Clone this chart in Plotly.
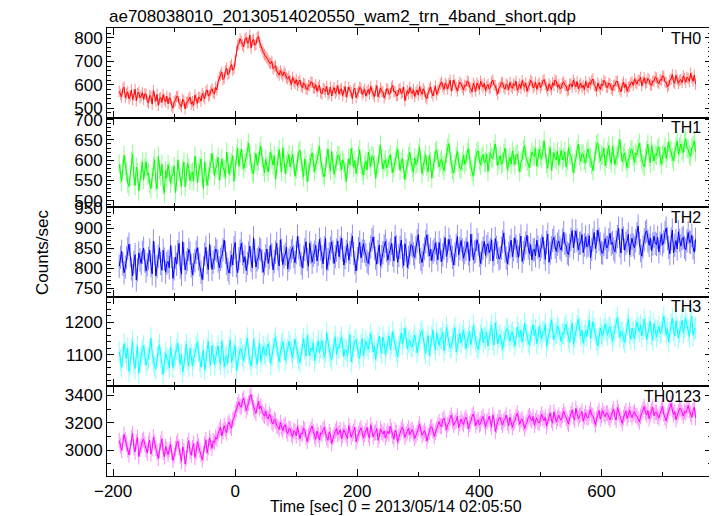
import numpy as np
import plotly.graph_objects as go
from plotly.subplots import make_subplots

# ---- data (2-s sampling starting at t=-190 s) ----
t_start = -190
t_step = 2

th0 = [572, 559, 548, 583, 590, 545, 561, 570, 540, 552, 578, 537, 556, 581, 531, 563, 569, 544, 552, 566,
       538, 561, 560, 529, 522, 555, 549, 517, 575, 548, 530, 559, 512, 540, 546, 525, 558, 536, 527, 551,
       519, 544, 541, 510, 500, 528, 533, 549, 552, 521, 515, 506, 538, 531, 497, 524, 526, 540, 548, 517,
       528, 512, 556, 539, 521, 547, 545, 530, 563, 551, 540, 569, 578, 552, 555, 574, 583, 566, 562, 590,
       578, 615, 632, 641, 655, 622, 628, 660, 671, 643, 649, 677, 686, 662, 668, 705, 742, 768, 775, 796,
       784, 770, 762, 795, 801, 778, 779, 812, 756, 787, 793, 769, 772, 801, 806, 781, 765, 752, 738, 729,
       722, 714, 705, 693, 690, 701, 668, 676, 681, 659, 652, 641, 660, 647, 638, 655, 646, 629, 625, 636,
       618, 601, 632, 614, 605, 622, 597, 611, 620, 594, 588, 607, 603, 583, 579, 598, 596, 612, 610, 587,
       585, 601, 572, 589, 598, 566, 561, 584, 580, 571, 593, 557, 566, 590, 552, 575, 588, 563, 574, 596,
       560, 578, 583, 554, 571, 592, 548, 567, 590, 575, 566, 541, 579, 586, 545, 562, 571, 589, 585, 558,
       568, 582, 552, 571, 580, 561, 593, 574, 562, 549, 575, 596, 549, 565, 586, 572, 570, 544, 558, 583,
       581, 559, 564, 588, 597, 570, 572, 553, 555, 579, 584, 562, 568, 590, 532, 556, 575, 561, 589, 570,
       563, 579, 550, 567, 578, 556, 591, 573, 559, 583, 572, 548, 540, 566, 583, 591, 566, 552, 575, 594,
       558, 576, 587, 603, 612, 591, 580, 607, 598, 582, 605, 619, 574, 596, 620, 601, 589, 573, 596, 611,
       603, 587, 578, 598, 595, 616, 612, 589, 584, 570, 606, 593, 572, 608, 598, 581, 615, 600, 590, 606,
       575, 592, 601, 583, 588, 612, 620, 599, 596, 577, 560, 586, 593, 610, 607, 589, 581, 603, 598, 579,
       610, 593, 585, 604, 597, 615, 576, 589, 603, 584, 618, 600, 590, 608, 572, 591, 600, 619, 612, 586,
       594, 611, 581, 600, 609, 587, 597, 616, 622, 601, 588, 574, 604, 593, 579, 609, 596, 621, 615, 589,
       601, 583, 586, 607, 612, 598, 595, 574, 578, 602, 604, 590, 620, 605, 591, 614, 583, 597, 606, 588,
       598, 579, 614, 596, 587, 610, 602, 617, 625, 598, 592, 573, 608, 594, 580, 603, 596, 619, 611, 590,
       589, 607, 603, 584, 576, 598, 597, 615, 614, 592, 582, 570, 600, 611, 588, 603, 571, 590, 594, 608,
       612, 597, 625, 609, 603, 620, 618, 632, 596, 613, 630, 605, 610, 627, 621, 600, 598, 616, 615, 633,
       628, 611, 604, 622, 619, 637, 635, 612, 610, 591, 598, 620, 624, 643, 612, 606, 640, 623, 606, 618,
       622, 609, 638, 626, 611, 632, 627, 614, 650, 629, 615, 641, 603]

th1 = [590, 566, 548, 579, 612, 587, 571, 543, 535, 562, 598, 615, 560, 538, 583, 569, 524, 552, 577, 595,
       552, 581, 596, 563, 568, 542, 530, 557, 585, 601, 547, 529, 609, 576, 561, 590, 538, 519, 574, 556,
       589, 571, 543, 560, 566, 585, 520, 548, 601, 574, 557, 536, 578, 595, 534, 562, 592, 580, 549, 567,
       571, 549, 610, 586, 545, 568, 583, 603, 559, 530, 596, 572, 538, 560, 575, 593, 617, 588, 562, 579,
       588, 607, 551, 573, 603, 582, 576, 557, 620, 596, 565, 584, 593, 611, 548, 579, 612, 630, 585, 602,
       628, 601, 579, 594, 605, 623, 642, 610, 591, 572, 566, 597, 617, 588, 598, 620, 635, 607, 584, 569,
       602, 585, 571, 596, 620, 603, 588, 611, 553, 577, 609, 626, 594, 572, 631, 605, 567, 589, 598, 614,
       583, 601, 614, 592, 560, 578, 596, 619, 625, 597, 575, 558, 603, 587, 547, 571, 590, 606, 618, 593,
       572, 590, 599, 615, 634, 602, 581, 566, 558, 583, 606, 627, 589, 574, 621, 598, 565, 580, 597, 612,
       612, 595, 576, 601, 593, 570, 548, 579, 604, 588, 629, 608, 582, 599, 567, 584, 611, 626, 590, 573,
       563, 587, 598, 576, 620, 603, 584, 611, 609, 589, 555, 580, 592, 616, 637, 604, 578, 593, 601, 582,
       586, 604, 613, 591, 569, 582, 597, 612, 628, 601, 575, 594, 604, 578, 552, 577, 590, 609, 619, 597,
       581, 570, 606, 589, 594, 617, 631, 600, 567, 585, 599, 614, 585, 571, 612, 596, 556, 579, 598, 620,
       625, 604, 583, 597, 602, 586, 574, 593, 616, 630, 641, 612, 590, 577, 568, 591, 609, 623, 595, 581,
       577, 596, 612, 590, 598, 618, 629, 603, 584, 571, 560, 588, 605, 620, 623, 599, 588, 607, 614, 594,
       596, 615, 572, 597, 618, 606, 603, 625, 640, 611, 587, 599, 611, 590, 594, 616, 630, 604, 576, 595,
       607, 590, 623, 608, 589, 612, 615, 598, 571, 594, 602, 625, 636, 609, 598, 585, 581, 604, 620, 611,
       610, 629, 585, 603, 627, 611, 604, 623, 648, 617, 592, 580, 613, 631, 575, 596, 619, 605, 601, 622,
       588, 608, 624, 600, 606, 621, 583, 599, 631, 614, 612, 593, 569, 590, 603, 626, 640, 611, 597, 616,
       615, 600, 592, 619, 628, 607, 605, 589, 574, 597, 622, 638, 643, 616, 598, 612, 611, 630, 586, 604,
       620, 636, 603, 592, 635, 617, 589, 606, 612, 628, 651, 622, 596, 610, 618, 599, 581, 603, 607, 625,
       627, 610, 595, 617, 613, 630, 642, 619, 601, 590, 584, 606, 624, 640, 609, 593, 636, 618, 598, 615,
       612, 627, 633, 608, 590, 611, 617, 632, 604, 621, 645, 628, 622, 606, 598, 619, 631, 647, 615, 633,
       640, 625, 618, 644, 652, 630, 627, 614, 609, 631, 636, 648, 621]

th2 = [805, 827, 842, 811, 789, 803, 826, 849, 860, 832, 798, 781, 815, 834, 771, 796, 838, 821, 812, 840,
       850, 818, 793, 809, 824, 845, 807, 786, 868, 837, 781, 804, 830, 851, 812, 795, 845, 823, 790, 812,
       817, 801, 856, 829, 775, 798, 828, 810, 841, 862, 803, 785, 866, 836, 796, 814, 822, 847, 838, 806,
       784, 809, 819, 840, 851, 823, 808, 790, 772, 801, 835, 852, 814, 796, 859, 830, 797, 815, 826, 848,
       843, 818, 801, 822, 829, 846, 870, 839, 812, 797, 788, 815, 833, 808, 851, 864, 806, 789, 824, 843,
       862, 836, 815, 829, 794, 812, 838, 855, 819, 801, 876, 844, 803, 821, 827, 849, 845, 818, 790, 811,
       831, 848, 812, 827, 858, 834, 796, 817, 840, 862, 823, 806, 871, 845, 809, 828, 835, 853, 798, 820,
       826, 843, 852, 829, 814, 838, 880, 851, 833, 812, 801, 828, 847, 866, 822, 805, 863, 839, 815, 832,
       840, 857, 818, 835, 872, 848, 829, 811, 851, 874, 797, 822, 836, 850, 866, 841, 812, 829, 845, 868,
       829, 851, 875, 846, 808, 826, 842, 861, 820, 839, 858, 880, 837, 814, 793, 824, 849, 865, 826, 843,
       861, 842, 834, 817, 812, 836, 853, 871, 878, 849, 825, 810, 841, 858, 806, 829, 839, 855, 867, 844,
       820, 837, 846, 862, 833, 818, 879, 854, 815, 832, 852, 870, 829, 807, 861, 845, 802, 827, 838, 859,
       855, 836, 827, 851, 868, 884, 840, 822, 814, 833, 849, 866, 883, 857, 831, 848, 819, 840, 846, 863,
       838, 821, 864, 845, 816, 833, 851, 876, 829, 843, 872, 855, 845, 827, 808, 836, 857, 879, 833, 849,
       869, 846, 825, 839, 848, 866, 836, 818, 885, 857, 821, 840, 843, 871, 859, 832, 812, 838, 850, 867,
       832, 854, 861, 839, 847, 871, 818, 835, 874, 852, 839, 823, 826, 850, 866, 888, 843, 825, 811, 837,
       853, 870, 829, 846, 876, 855, 842, 827, 858, 880, 817, 839, 849, 863, 882, 851, 836, 859, 821, 845,
       847, 831, 870, 852, 828, 846, 855, 878, 839, 822, 864, 885, 815, 838, 851, 869, 877, 853, 842, 860,
       868, 851, 845, 870, 889, 862, 857, 838, 834, 856, 872, 894, 851, 867, 893, 870, 846, 862, 863, 884,
       839, 858, 878, 853, 858, 881, 826, 847, 870, 889, 849, 866, 895, 872, 861, 840, 837, 859, 874, 852,
       852, 871, 887, 860, 864, 848, 841, 865, 879, 900, 856, 838, 898, 875, 845, 862, 868, 885, 833, 857,
       875, 858, 851, 869, 886, 905, 862, 844, 830, 853, 871, 889, 893, 868, 857, 876, 843, 860, 880, 862,
       859, 877, 841, 862, 884, 858, 866, 889, 900, 874, 852, 836, 873, 895, 838, 857, 869, 848, 891, 870,
       855, 873, 877, 852, 846, 868, 889, 866, 864, 882, 851, 840, 872]

th3 = [1110, 1084, 1062, 1096, 1135, 1107, 1088, 1121, 1049, 1073, 1120, 1141, 1075, 1058, 1101, 1126, 1043, 1079, 1097, 1115,
       1128, 1099, 1069, 1083, 1090, 1117, 1152, 1104, 1081, 1065, 1056, 1094, 1114, 1131, 1092, 1071, 1040, 1078, 1106, 1089,
       1083, 1061, 1125, 1102, 1061, 1086, 1099, 1118, 1137, 1094, 1072, 1101, 1048, 1069, 1110, 1133, 1087, 1065, 1121, 1100,
       1066, 1088, 1103, 1124, 1139, 1111, 1080, 1062, 1096, 1115, 1054, 1077, 1118, 1142, 1091, 1068, 1129, 1105, 1070, 1093,
       1107, 1128, 1085, 1071, 1142, 1116, 1063, 1089, 1098, 1074, 1124, 1146, 1077, 1093, 1112, 1130, 1051, 1082, 1095, 1119,
       1118, 1097, 1082, 1108, 1130, 1152, 1104, 1087, 1066, 1093, 1147, 1122, 1091, 1070, 1113, 1136, 1079, 1101, 1126, 1106,
       1098, 1121, 1135, 1110, 1072, 1096, 1120, 1138, 1153, 1127, 1094, 1079, 1108, 1131, 1141, 1115, 1083, 1104, 1117, 1142,
       1129, 1108, 1090, 1117, 1148, 1124, 1105, 1087, 1076, 1101, 1132, 1150, 1119, 1096, 1160, 1133, 1097, 1121, 1114, 1139,
       1081, 1104, 1125, 1143, 1107, 1122, 1144, 1118, 1093, 1110, 1168, 1139, 1112, 1095, 1086, 1115, 1137, 1156, 1102, 1124,
       1121, 1140, 1154, 1129, 1095, 1117, 1113, 1097, 1139, 1162, 1078, 1106, 1126, 1143, 1148, 1123, 1104, 1089, 1131, 1150,
       1097, 1120, 1143, 1127, 1118, 1139, 1165, 1141, 1109, 1128, 1087, 1114, 1136, 1158, 1122, 1105, 1155, 1137, 1101, 1125,
       1140, 1159, 1116, 1135, 1172, 1147, 1128, 1110, 1095, 1124, 1150, 1168, 1133, 1151, 1182, 1156, 1119, 1138, 1145, 1127,
       1124, 1143, 1161, 1138, 1107, 1129, 1146, 1169, 1175, 1150, 1121, 1104, 1139, 1160, 1098, 1126, 1157, 1177, 1134, 1115,
       1168, 1145, 1129, 1152, 1151, 1170, 1112, 1136, 1185, 1161, 1142, 1120, 1126, 1149, 1163, 1184, 1109, 1131, 1148, 1166,
       1137, 1158, 1176, 1149, 1120, 1141, 1155, 1173, 1131, 1152, 1190, 1164, 1143, 1125, 1117, 1139, 1160, 1181, 1138, 1154,
       1152, 1170, 1127, 1148, 1171, 1192, 1146, 1130, 1199, 1173, 1134, 1155, 1162, 1144, 1118, 1140, 1157, 1178, 1181, 1159,
       1143, 1164, 1170, 1152, 1128, 1149, 1186, 1167, 1155, 1176, 1139, 1158, 1197, 1174, 1162, 1140, 1131, 1156, 1175, 1193,
       1159, 1178, 1135, 1153, 1188, 1166, 1150, 1171, 1172, 1194, 1126, 1149, 1165, 1183, 1208, 1180, 1147, 1163, 1168, 1189,
       1180, 1160, 1141, 1166, 1163, 1184, 1195, 1172, 1152, 1138, 1177, 1198, 1133, 1155, 1169, 1190, 1211, 1183, 1158, 1176,
       1136, 1159, 1174, 1156, 1190, 1208, 1149, 1171, 1202, 1180, 1165, 1145, 1128, 1152, 1183, 1167, 1157, 1178, 1196, 1174,
       1161, 1182, 1187, 1165, 1143, 1160, 1178, 1199, 1215, 1186, 1154, 1173, 1170, 1151, 1139, 1164, 1192, 1211, 1166, 1148,
       1183, 1168, 1149, 1175, 1201, 1184, 1172, 1193, 1158, 1179, 1210, 1188, 1146, 1167, 1185, 1204, 1163, 1145, 1197, 1177,
       1155, 1173, 1188, 1166, 1171, 1196, 1218, 1190, 1162, 1181, 1140, 1168, 1194, 1213, 1176, 1158, 1205, 1184, 1152, 1171,
       1189, 1207, 1167, 1185, 1212, 1193, 1174, 1156, 1198, 1219, 1160, 1178, 1183]

th0123 = [3070, 3032, 2998, 3051, 3115, 3076, 3042, 3004, 2965, 3019, 3088, 3121, 3021, 2987, 3060, 3093, 2952, 3008, 3034, 3067,
          3079, 3041, 3003, 2978, 3048, 3072, 2971, 3012, 3095, 3058, 3015, 2983, 2940, 2996, 3052, 3083, 2986, 2951, 3027, 3004,
          2968, 3005, 3041, 2982, 2925, 2959, 3010, 3047, 3066, 3020, 2955, 2917, 3024, 2993, 2898, 2944, 3037, 3070, 2990, 2962,
          3018, 3049, 2946, 2985, 3062, 3030, 3001, 2968, 2930, 2975, 3045, 3076, 2978, 3021, 3089, 3054, 3012, 3067, 3056, 3094,
          3080, 3121, 3145, 3168, 3102, 3139, 3178, 3150, 3126, 3187, 3205, 3174, 3160, 3219, 3234, 3271, 3298, 3330, 3352, 3318,
          3315, 3361, 3380, 3334, 3287, 3318, 3342, 3389, 3405, 3351, 3310, 3290, 3268, 3327, 3356, 3301, 3322, 3279, 3260, 3248,
          3285, 3241, 3228, 3262, 3246, 3205, 3190, 3227, 3214, 3179, 3168, 3150, 3201, 3163, 3142, 3176, 3185, 3139, 3120, 3158,
          3156, 3117, 3098, 3141, 3135, 3104, 3172, 3130, 3084, 3122, 3119, 3160, 3148, 3095, 3063, 3108, 3127, 3150, 3176, 3133,
          3102, 3079, 3140, 3113, 3075, 3126, 3118, 3149, 3165, 3121, 3090, 3071, 3133, 3109, 3047, 3092, 3112, 3137, 3158, 3115,
          3125, 3148, 3082, 3110, 3149, 3126, 3106, 3083, 3178, 3141, 3094, 3120, 3137, 3168, 3060, 3099, 3121, 3144, 3163, 3128,
          3088, 3116, 3142, 3165, 3110, 3087, 3185, 3147, 3096, 3124, 3130, 3158, 3071, 3103, 3154, 3131, 3117, 3140, 3089, 3115,
          3138, 3119, 3175, 3143, 3102, 3079, 3146, 3127, 3058, 3101, 3124, 3152, 3169, 3136, 3093, 3118, 3135, 3161, 3112, 3140,
          3150, 3123, 3084, 3106, 3127, 3159, 3190, 3144, 3108, 3126, 3142, 3117, 3066, 3105, 3131, 3166, 3172, 3138, 3098, 3129,
          3155, 3181, 3208, 3176, 3172, 3219, 3234, 3197, 3146, 3184, 3198, 3231, 3255, 3213, 3180, 3202, 3215, 3248, 3162, 3194,
          3226, 3201, 3187, 3223, 3240, 3212, 3153, 3189, 3209, 3245, 3264, 3228, 3178, 3206, 3221, 3183, 3195, 3230, 3246, 3210,
          3170, 3204, 3218, 3247, 3193, 3168, 3257, 3225, 3136, 3179, 3205, 3236, 3238, 3203, 3182, 3214, 3226, 3255, 3199, 3177,
          3241, 3209, 3166, 3197, 3212, 3243, 3270, 3231, 3189, 3216, 3228, 3195, 3157, 3186, 3204, 3238, 3252, 3227, 3213, 3246,
          3181, 3214, 3236, 3205, 3197, 3229, 3262, 3233, 3215, 3241, 3174, 3208, 3248, 3271, 3220, 3196, 3279, 3244, 3206, 3232,
          3255, 3229, 3218, 3251, 3284, 3260, 3232, 3207, 3190, 3236, 3266, 3293, 3241, 3219, 3305, 3268, 3228, 3250, 3259, 3283,
          3210, 3243, 3272, 3239, 3236, 3268, 3296, 3257, 3248, 3221, 3184, 3226, 3263, 3290, 3227, 3253, 3289, 3262, 3244, 3271,
          3268, 3240, 3221, 3254, 3277, 3301, 3240, 3219, 3312, 3279, 3252, 3228, 3195, 3238, 3265, 3287, 3230, 3256, 3291, 3262,
          3237, 3266, 3280, 3253, 3249, 3227, 3206, 3245, 3273, 3296, 3318, 3277, 3256, 3289, 3229, 3261, 3290, 3314, 3251, 3276,
          3275, 3248, 3233, 3268, 3297, 3320, 3262, 3239, 3214, 3255, 3285, 3306, 3340, 3294, 3258, 3281, 3222, 3253, 3279, 3304,
          3301, 3274, 3248, 3283, 3270, 3297, 3325, 3288, 3262, 3240, 3290, 3313, 3236]

band_names = ["TH0", "TH1", "TH2", "TH3", "TH0123"]
band_values = [th0, th1, th2, th3, th0123]
band_errors = [24, 24, 29, 33, 57]

title_text = "ae708038010_20130514020550_wam2_trn_4band_short.qdp"
x_title = "Time [sec] 0 = 2013/05/14 02:05:50"
y_title = "Counts/sec"

# ---- styling ----
line_colors = ["#ff0000", "#00ff00", "#0000ff", "#00ffff", "#ff00ff"]
err_colors = ["rgba(255,0,0,0.45)", "rgba(0,255,0,0.45)", "rgba(0,0,255,0.45)",
              "rgba(0,255,255,0.45)", "rgba(255,0,255,0.45)"]
y_ranges = [[460, 842], [484, 705], [729, 952], [1003, 1279], [2811, 3465]]
y_dticks = [100, 50, 50, 100, 200]
y_minor = [20, 10, 10, 20, 100]

FONT = "Liberation Sans, Arial, Helvetica, sans-serif"
OFF = 8                      # default page (body) margin of the html page
W, H = 717 - OFF, 516 - OFF
ML, MR, MT, MB = 107 - OFF, 5, 28 - OFF, 40
PW, PH = W - ML - MR, H - MT - MB


def px_x(page_x):
    return (page_x - OFF - ML) / PW


def px_y(page_y):
    return (H - MB - (page_y - OFF)) / PH


fig = make_subplots(rows=5, cols=1, shared_xaxes=True, vertical_spacing=0)

for i, (vals, err) in enumerate(zip(band_values, band_errors)):
    t = t_start + t_step * np.arange(len(vals))
    fig.add_trace(go.Scatter(
        x=t, y=vals, mode="lines",
        line=dict(color=line_colors[i], width=1),
        error_y=dict(type="constant", value=err, color=err_colors[i],
                     thickness=1, width=0),
        showlegend=False, hoverinfo="skip"), row=i + 1, col=1)

    fig.update_yaxes(row=i + 1, col=1, range=y_ranges[i], dtick=y_dticks[i],
                     tick0=0, ticks="inside", ticklen=7, tickwidth=1,
                     tickcolor="black", showline=True, linecolor="black",
                     linewidth=1, mirror="allticks", showgrid=False,
                     zeroline=False,
                     tickfont=dict(family=FONT, size=17, color="black"),
                     minor=dict(dtick=y_minor[i], ticks="inside", ticklen=4,
                                tickcolor="black", showgrid=False))
    fig.update_xaxes(row=i + 1, col=1, range=[-210, 781], dtick=200, tick0=0,
                     ticks="inside", ticklen=7, tickwidth=1, tickcolor="black",
                     showline=True, linecolor="black", linewidth=1,
                     mirror="allticks", showgrid=False, zeroline=False,
                     showticklabels=(i == 4),
                     tickfont=dict(family=FONT, size=17, color="black"),
                     minor=dict(dtick=100, ticks="inside", ticklen=4,
                                tickcolor="black", showgrid=False))

annotations = []
for i, name in enumerate(band_names):
    top_page = 28 + 448 / 5 * i
    annotations.append(dict(
        text=name, xref="paper", yref="paper",
        x=px_x(703), y=px_y(top_page + 10),
        xanchor="right", yanchor="middle", showarrow=False,
        font=dict(family=FONT, size=16, color="black")))

annotations.append(dict(text=title_text, xref="paper", yref="paper",
                        x=0, y=px_y(16), xanchor="left",
                        yanchor="middle", showarrow=False,
                        font=dict(family=FONT, size=17, color="black")))
annotations.append(dict(text=x_title, xref="paper", yref="paper",
                        x=px_x(396), y=px_y(506),
                        xanchor="center", yanchor="middle", showarrow=False,
                        font=dict(family=FONT, size=16, color="black")))
annotations.append(dict(text=y_title, xref="paper", yref="paper",
                        x=px_x(42), y=0.5, textangle=-90,
                        xanchor="center", yanchor="middle", showarrow=False,
                        font=dict(family=FONT, size=17, color="black")))

fig.update_layout(width=W, height=H,
                  margin=dict(l=ML, r=MR, t=MT, b=MB, pad=0),
                  paper_bgcolor="white", plot_bgcolor="white",
                  annotations=annotations)

fig.write_html("out.html")
